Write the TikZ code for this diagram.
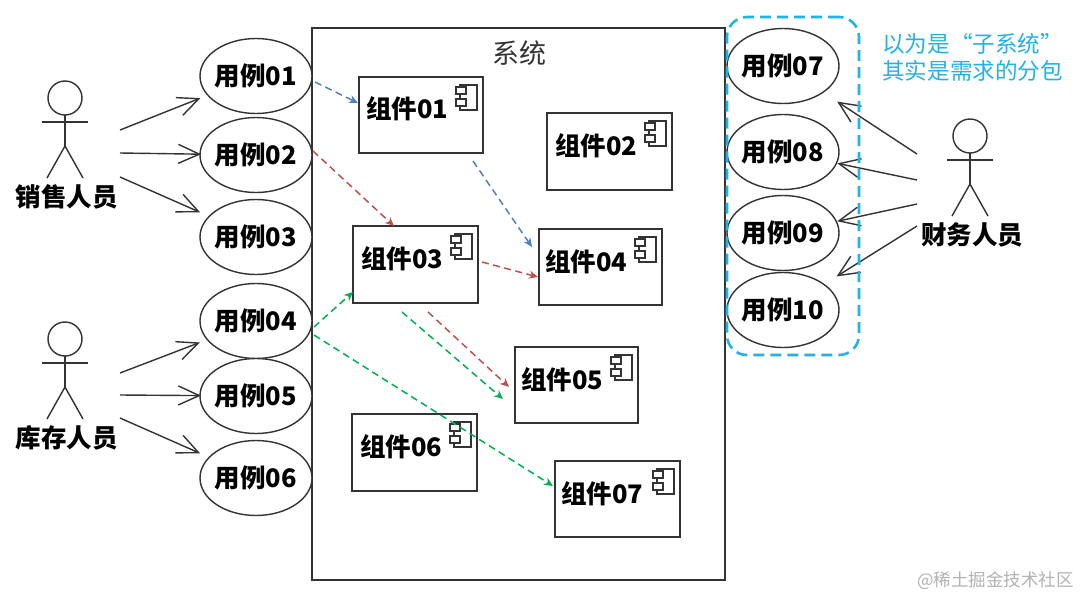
\documentclass[tikz,border=0pt]{standalone}
\usepackage{fontspec}
\setmainfont{Noto Sans CJK SC}
\usetikzlibrary{arrows.meta,shapes.geometric}
\definecolor{ink}{HTML}{333333}
\definecolor{cyanbox}{HTML}{22B2E6}
\definecolor{redflow}{HTML}{C0504D}
\definecolor{blueflow}{HTML}{4F81BD}
\definecolor{greenflow}{HTML}{00B050}
\tikzset{
  usecase/.style={ellipse,draw=ink,line width=1.4pt,fill=white,minimum width=112pt,minimum height=75pt,inner sep=0pt,outer sep=0pt,font=\fontsize{25.5}{26}\selectfont\bfseries,text=black},
  actorlabel/.style={inner sep=0pt,font=\fontsize{25.5}{26}\selectfont\bfseries,text=black},
  complabel/.style={anchor=west,inner sep=0pt,font=\fontsize{25.5}{26}\selectfont\bfseries,text=black},
  compbox/.style={rectangle,anchor=north west,draw=ink,line width=1.5pt,fill=white,inner sep=0pt,outer sep=0pt},
  icon/.style={draw=ink,line width=1.1pt,fill=white},
  actorline/.style={draw=ink,line width=1.4pt},
  head/.style={circle,draw=ink,line width=1.4pt,minimum size=34pt,inner sep=0pt,outer sep=0pt},
  assoc/.style={draw=ink,line width=1.4pt,-{Straight Barb[length=21pt,width=19pt,line width=1.4pt]}},
  flow/.style={line width=1.5pt,dash pattern=on 7pt off 4.5pt,-{Stealth[length=9pt,width=8pt]}},
  bluef/.style={flow,draw=blueflow},
  greenf/.style={flow,draw=greenflow},
  redf/.style={flow,draw=redflow},
}
\newcommand{\uclabel}[1]{\makebox[0pt]{\raisebox{-1pt}{#1}}}
\newcommand{\stickman}[3]{% name, x, head y
  \node[head] (#1) at (#2,#3) {};
  \coordinate (#1arm) at (#2,#3+24);
  \coordinate (#1hip) at (#2,#3+48);
  \draw[actorline] (#1.south) -- (#1hip);
  \draw[actorline] ([xshift=-23pt]#1arm) -- ([xshift=23pt]#1arm);
  \draw[actorline] ([shift={(-18,32)}]#1hip) -- (#1hip) -- ([shift={(18,32)}]#1hip);
}
\newcommand{\compo}[8]{% name,x,y,w,h,text,tx,ty
  \node[compbox,minimum width=#4pt,minimum height=#5pt] (#1) at (#2,#3) {};
  \begin{scope}[shift={(#2+#4,#3)}]
    \draw[icon] (-23,8) rectangle (-6,33);
    \draw[icon] (-27,10) rectangle (-17,17);
    \draw[icon] (-27,22) rectangle (-17,29);
  \end{scope}
  \node[complabel] (#1t) at (#7,#8) {#6};
}
\begin{document}
\begin{tikzpicture}[x=1pt,y=-1pt]
\useasboundingbox (0,0) rectangle (1080,598);
\fill[white] (0,0) rectangle (1080,598);
\node[rectangle,draw=ink,line width=1.5pt,anchor=north west,minimum width=413pt,minimum height=552pt,inner sep=0pt,outer sep=0pt] (sys) at (312,28) {};
\node[inner sep=0pt,text=ink,font=\fontsize{27}{27}\selectfont] (systitle) at (519,53) {系统};

\node[usecase] (uc01) at (256,76) {\uclabel{用例01}};
\node[usecase] (uc02) at (256,155) {\uclabel{用例02}};
\node[usecase] (uc03) at (256,237) {\uclabel{用例03}};
\node[usecase] (uc04) at (256,321) {\uclabel{用例04}};
\node[usecase] (uc05) at (256,396) {\uclabel{用例05}};
\node[usecase] (uc06) at (256,478) {\uclabel{用例06}};
\node[usecase] (uc07) at (783,66) {\uclabel{用例07}};
\node[usecase] (uc08) at (783,152) {\uclabel{用例08}};
\node[usecase] (uc09) at (783,233) {\uclabel{用例09}};
\node[usecase] (uc10) at (783,310) {\uclabel{用例10}};

\compo{c1}{359}{77}{124}{76}{组件01}{366}{109}
\compo{c2}{547}{113}{125}{77}{组件02}{555}{146}
\compo{c3}{353}{226}{125}{77}{组件03}{361}{259}
\compo{c4}{539}{229}{123}{76}{组件04}{545}{262}
\compo{c5}{515}{347}{123}{76}{组件05}{521}{380}
\compo{c6}{352}{414}{125}{77}{组件06}{360}{447}
\compo{c7}{555}{461}{125}{76}{组件07}{561}{494}

\stickman{sales}{65}{98}
\node[actorlabel] (saleslabel) at (67,197) {销售人员};
\stickman{stock}{65}{339}
\node[actorlabel] (stocklabel) at (67,438) {库存人员};
\stickman{fin}{970}{136}
\node[actorlabel] (finlabel) at (972,235) {财务人员};

\coordinate (s1) at (120,130);
\coordinate (s2) at (120,153);
\coordinate (s3) at (120,177);
\coordinate (t1) at (120,373);
\coordinate (t2) at (120,395);
\coordinate (t3) at (120,418);
\coordinate (f1) at (917,154);
\coordinate (f2) at (917,180);
\coordinate (f3) at (917,204);
\coordinate (f4) at (917,226);

\draw[assoc,shorten >=8pt] (s1) -- (uc01);
\draw[assoc,shorten >=-1pt] (s2) -- (uc02);
\draw[assoc,shorten >=10pt] (s3) -- (uc03);
\draw[assoc,shorten >=8pt] (t1) -- (uc04);
\draw[assoc,shorten >=-1pt] (t2) -- (uc05);
\draw[assoc,shorten >=10pt] (t3) -- (uc06);
\draw[assoc,shorten >=17pt] (f1) -- (uc07);
\draw[assoc,shorten >=1pt] (f2) -- (uc08);
\draw[assoc,shorten >=1pt] (f3) -- (uc09);
\draw[assoc,shorten >=15pt] (f4) -- (uc10);

\draw[bluef] ([shift={(3,6)}]uc01.east) -- ([shift={(-1,-12)}]c1.west);
\draw[bluef] ([shift={(-10,8)}]c1.south east) -- ([shift={(-7,-20)}]c4.west);
\draw[redf] ([shift={(1,-4)}]uc02.east) -- ([shift={(-21.5,0)}]c3.north);
\draw[redf] ([shift={(4,-2.5)}]c3.east) -- ([shift={(-1,10)}]c4.west);
\draw[redf] ([shift={(12.5,9)}]c3.south) -- ([shift={(-6,2)}]c5.west);
\draw[greenf] ([shift={(-13.5,9)}]c3.south) -- ([shift={(-12,14)}]c5.west);
\draw[greenf] ([shift={(2,6)}]uc04.east) -- ([shift={(0,-11)}]c3.south west);
\draw[greenf] ([shift={(2,14)}]uc04.east) -- ([shift={(-2,-13)}]c7.west);

\node[rectangle,draw=cyanbox,line width=2.6pt,rounded corners=20pt,dash pattern=on 11pt off 6pt,anchor=north west,minimum width=132pt,minimum height=338pt,inner sep=0pt,outer sep=0pt] (group) at (727,17) {};
\node[anchor=west,inner sep=0pt,text=cyanbox,font=\fontsize{22.6}{22.6}\selectfont] (note1) at (882,44) {以为是“子系统”};
\node[anchor=west,inner sep=0pt,text=cyanbox,font=\fontsize{22.6}{22.6}\selectfont] (note2) at (882,71) {其实是需求的分包};
\node[anchor=east,inner sep=0pt,text=black!30,font=\fontsize{17.5}{17.5}\selectfont] (mark) at (1074,581) {@稀土掘金技术社区};
\end{tikzpicture}
\end{document}
